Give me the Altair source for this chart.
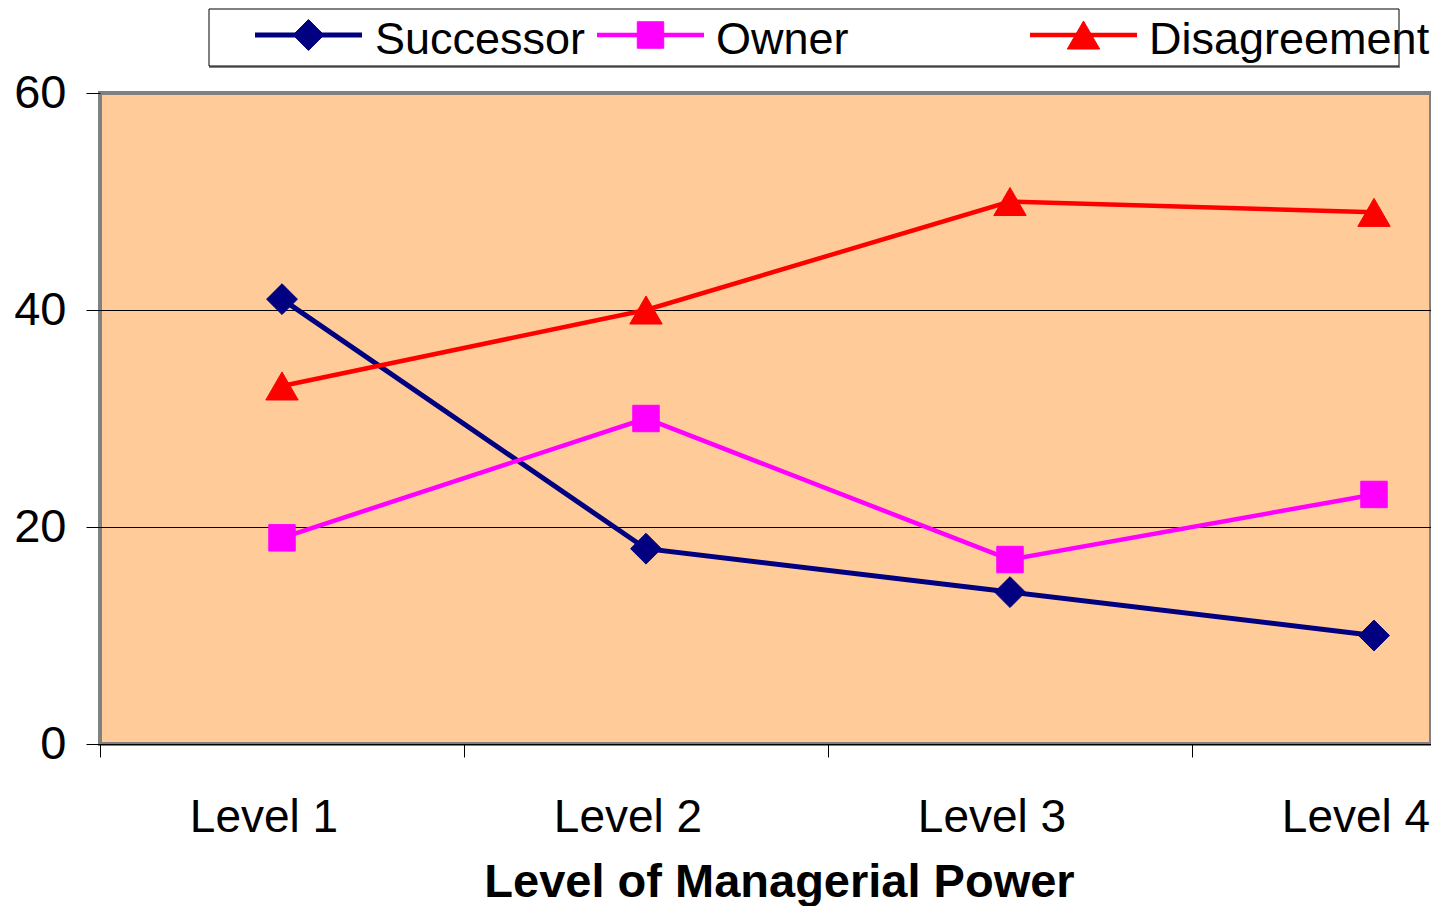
import altair as alt
import pandas as pd

# ---------------- data ----------------
levels = ["Level 1", "Level 2", "Level 3", "Level 4"]
series_names = ["Successor", "Owner", "Disagreement"]
successor = [41, 18, 14, 10]
owner = [19, 30, 17, 23]
disagreement = [33, 40, 50, 49]
y_ticks = [0, 20, 40, 60]
x_title = "Level of Managerial Power"

# ---------------- styles / layout ----------------
colors = ["#000080", "#FF00FF", "#FF0000"]
shapes = ["diamond", "square", "triangle-up"]
sizes = [950, 700, 1050]
line_widths = [5, 4.5, 4.5]
FONT = "Liberation Sans"
PLOT_W, PLOT_H = 1331, 651
BAND = 364
ORIGIN_X, ORIGIN_Y = 100, 93          # plot origin on the page
LEGEND_LINE_X = [255, 597, 1030]      # legend sample line starts (page px)
LEGEND_TEXT_X = [375, 716, 1149]
LEGEND_LINE_LEN = 107

values_by_series = [successor, owner, disagreement]
rows = []
for name, vals in zip(series_names, values_by_series):
    for i, (lvl, v) in enumerate(zip(levels, vals)):
        rows.append({"series": name, "level": lvl, "pos": i + 0.5, "value": v})
df = pd.DataFrame(rows)
lvl_df = pd.DataFrame({"level": levels, "pos": [i + 0.5 for i in range(len(levels))]})

x_enc = alt.X(
    "pos:Q",
    scale=alt.Scale(domain=[0, PLOT_W / BAND], nice=False, zero=False),
    axis=alt.Axis(
        values=[0, 1, 2, 3], labels=False, grid=False,
        tickSize=13, tickColor="black", tickWidth=1,
        domainColor="black", domainWidth=1,
        title=x_title, titleFont=FONT, titleFontSize=47, titleFontWeight="bold",
        titleColor="black", titleX=679, titleY=152, titleAlign="center",
        titleBaseline="alphabetic", titleAnchor="start",
    ),
)
y_enc = alt.Y(
    "value:Q",
    scale=alt.Scale(domain=[0, 60], nice=False),
    axis=alt.Axis(
        values=y_ticks, grid=True,
        gridColor={"condition": {"test": "datum.value === 20 || datum.value === 40", "value": "black"},
                   "value": "transparent"},
        gridWidth=1, domain=False, tickSize=14, tickColor="black", tickWidth=1,
        labelPadding=20, labelFont=FONT, labelFontSize=47, labelColor="black",
        title=None,
    ),
)

layers = []
for name, c, shp, sz, lw in zip(series_names, colors, shapes, sizes, line_widths):
    sub = df[df.series == name]
    base = alt.Chart(sub).encode(x=x_enc, y=y_enc)
    layers.append(base.mark_line(color=c, strokeWidth=lw))
for name, c, shp, sz, lw in zip(series_names, colors, shapes, sizes, line_widths):
    sub = df[df.series == name]
    base = alt.Chart(sub).encode(x=x_enc, y=y_enc)
    layers.append(base.mark_point(shape=shp, size=sz, filled=True, color=c,
                                  stroke=c, strokeWidth=1, opacity=1))

# category labels centred under each band
layers.append(
    alt.Chart(lvl_df).mark_text(font=FONT, fontSize=46, color="black",
                                align="center", baseline="alphabetic", dx=-18)
    .encode(x=x_enc, y=alt.value(739), text="level:N")
)

# legend box
one = pd.DataFrame({"k": [0]})
layers.append(
    alt.Chart(one).mark_rule(color="#808080", strokeWidth=2)
    .encode(x=alt.value(209 - ORIGIN_X), x2=alt.value(1400 - ORIGIN_X), y=alt.value(67 - ORIGIN_Y))
)
layers.append(
    alt.Chart(one).mark_rect(fill="white", stroke="black", strokeWidth=1)
    .encode(x=alt.value(209 - ORIGIN_X), x2=alt.value(1399 - ORIGIN_X),
            y=alt.value(9 - ORIGIN_Y), y2=alt.value(66 - ORIGIN_Y))
)
for i, (name, c, shp, sz, lw) in enumerate(zip(series_names, colors, shapes, sizes, line_widths)):
    sd = pd.DataFrame({"series": [name]})
    lx = LEGEND_LINE_X[i] - ORIGIN_X
    ly = 35 - ORIGIN_Y
    layers.append(
        alt.Chart(sd).mark_rule(color=c, strokeWidth=lw)
        .encode(x=alt.value(lx), x2=alt.value(lx + LEGEND_LINE_LEN), y=alt.value(ly))
    )
    layers.append(
        alt.Chart(sd).mark_point(shape=shp, size=sz, filled=True, color=c, stroke=c,
                                 strokeWidth=1, opacity=1)
        .encode(x=alt.value(lx + LEGEND_LINE_LEN / 2), y=alt.value(ly))
    )
    layers.append(
        alt.Chart(sd).mark_text(font=FONT, fontSize=45, color="black",
                                align="left", baseline="alphabetic")
        .encode(x=alt.value(LEGEND_TEXT_X[i] - ORIGIN_X), y=alt.value(54 - ORIGIN_Y),
                text="series:N")
    )

chart = (
    alt.layer(*layers)
    .properties(
        width=PLOT_W, height=PLOT_H,
        autosize=alt.AutoSizeParams(type="none"),
        padding={"left": 92, "top": 85, "right": 0, "bottom": 162},
        background="white",
    )
    .configure_view(fill="#FFCC99", stroke="#808080", strokeWidth=4)
)

chart.save("out.html", embed_options={"renderer": "svg", "actions": False})
